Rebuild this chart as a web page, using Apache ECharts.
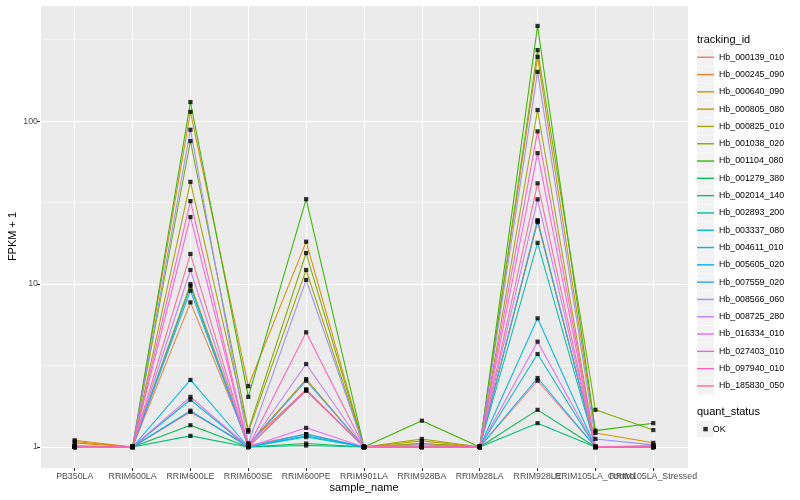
<!DOCTYPE html>
<html><head><meta charset="utf-8">
<script src="https://cdn.jsdelivr.net/npm/echarts@6/dist/echarts.min.js"></script>
<style>html,body{margin:0;padding:0;background:#fff}#c{width:800px;height:500px}</style>
</head><body><div id="c"></div>
<script>
const categories = ['PB350LA','RRIM600LA','RRIM600LE','RRIM600SE','RRIM600PE','RRIM901LA','RRIM928BA','RRIM928LA','RRIM928LE','RRIM105LA_Control','RRIM105LA_Stressed'];
const trackingIds = ['Hb_000139_010','Hb_000245_090','Hb_000640_090','Hb_000805_080','Hb_000825_010','Hb_001038_020','Hb_001104_080','Hb_001279_380','Hb_002014_140','Hb_002893_200','Hb_003337_080','Hb_004611_010','Hb_005605_020','Hb_007559_020','Hb_008566_060','Hb_008725_280','Hb_016334_010','Hb_027403_010','Hb_097940_010','Hb_185830_050'];
const colors = ['#F8766D','#EA8331','#D89000','#C09B00','#A3A500','#7CAE00','#39B600','#00BB4E','#00BF7D','#00C1A3','#00BFC4','#00BAE0','#00B0F6','#35A2FF','#9590FF','#C77CFF','#E76BF3','#FA62DB','#FF62BC','#FF6C91'];
const yTicks = [1, 10, 100];
const yMin = 0.743, yMax = 516;

const hb000139 = [1.00,1,1.64,1.02,1.20,1.00,1.00,1,2.55,1.00,1.00];
const hb000245 = [1.10,1,7.72,1.05,2.25,1.00,1.00,1,24.0,1.00,1.02];
const hb000640 = [1.08,1,114,2.36,18.2,1.00,1.05,1,248,1.22,1.06];
const hb000805 = [1.06,1,10.0,1.03,2.61,1.00,1.09,1,24.7,1.00,1.00];
const hb000825 = [1.00,1,42.4,1.24,12.2,1.00,1.12,1,117,1.00,1.00];
const hb001038 = [1.00,1,75.4,1.27,15.5,1.00,1.05,1,273,1.69,1.27];
const hb001104 = [1.00,1,131,2.03,33.2,1.00,1.45,1,384,1.26,1.40];
const hb001279 = [1.00,1,1.36,1.00,1.05,1.00,1.00,1,1.69,1.00,1.00];
const hb002014 = [1.00,1,1.17,1.00,1.02,1.00,1.00,1,1.40,1.00,1.00];
const hb002893 = [1.00,1,9.70,1.00,2.22,1.00,1.00,1,17.9,1.00,1.00];
const hb003337 = [1.00,1,1.95,1.00,1.15,1.00,1.00,1,3.72,1.00,1.00];
const hb004611 = [1.00,1,2.58,1.00,1.17,1.00,1.00,1,6.16,1.00,1.00];
const hb005605 = [1.00,1,1.67,1.00,1.20,1.00,1.00,1,2.65,1.00,1.00];
const hb007559 = [1.00,1,9.10,1.02,2.55,1.00,1.00,1,24.3,1.00,1.00];
const hb008566 = [1.00,1,88.5,1.05,10.6,1.00,1.03,1,200.6,1.12,1.03];
const hb008725 = [1.00,1,12.2,1.00,3.23,1.00,1.00,1,33.1,1.00,1.00];
const hb016334 = [1.00,1,2.03,1.00,1.31,1.00,1.00,1,4.43,1.00,1.00];
const hb027403 = [1.02,1,25.8,1.00,2.22,1.00,1.00,1,63.6,1.00,1.00];
const hb097940 = [1.00,1,32.3,1.00,5.06,1.00,1.00,1,86.5,1.00,1.00];
const hb185830 = [1.00,1,15.3,1.00,2.25,1.00,1.00,1,41.5,1.00,1.00];

const seriesValues = [hb000139,hb000245,hb000640,hb000805,hb000825,hb001038,hb001104,hb001279,hb002014,hb002893,hb003337,hb004611,hb005605,hb007559,hb008566,hb008725,hb016334,hb027403,hb097940,hb185830];

const FONT = 'Liberation Sans, Arial, Helvetica, sans-serif';
const series = seriesValues.map((vals, k) => ({
  name: trackingIds[k], type: 'line', color: colors[k],
  data: vals.map((v, i) => [i, v]),
  showSymbol: false, symbol: 'none', silent: true, animation: false,
  lineStyle: { width: 1.05, color: colors[k] }, z: 2
}));
const pts = [];
seriesValues.forEach(vals => vals.forEach((v, i) => pts.push([i, v])));
series.push({
  name: 'OK', type: 'scatter', data: pts, symbol: 'rect', symbolSize: 4.2,
  itemStyle: { color: '#000' }, z: 5, animation: false, silent: true
});

const keyTop = 48.6, keyStep = 17.3;
const graphics = [
  { type: 'text', left: 697, top: 34, style: { text: 'tracking_id', font: '11px ' + FONT, fill: '#000' } },
  { type: 'text', left: 697, top: 406, style: { text: 'quant_status', font: '11px ' + FONT, fill: '#000' } },
  { type: 'rect', shape: { x: 697, y: 420.6, width: 17, height: 16.8 }, style: { fill: '#F2F2F2' }, z: 0 }
];
trackingIds.forEach((t, i) => graphics.push({
  type: 'rect', shape: { x: 697, y: keyTop + i * keyStep + 0.25, width: 17, height: 16.8 },
  style: { fill: '#F2F2F2' }, z: 0
}));

const chart = echarts.init(document.getElementById('c'));
chart.setOption({
  backgroundColor: '#fff',
  animation: false,
  textStyle: { fontFamily: FONT },
  grid: { left: 40, right: 112, top: 5, bottom: 32, show: true, backgroundColor: '#EBEBEB', borderWidth: 0,
    containLabel: false, outerBoundsMode: 'none' },
  xAxis: {
    type: 'value', min: -0.6, max: 10.6, minInterval: 1, maxInterval: 1, splitNumber: 11,
    name: 'sample_name', nameLocation: 'middle', nameGap: 14, nameMoveOverlap: false,
    nameTextStyle: { fontSize: 11, color: '#000', fontFamily: FONT },
    axisLine: { show: false, onZero: false },
    axisTick: { show: true, length: 3, lineStyle: { color: '#333', width: 1 } },
    axisLabel: { color: '#4D4D4D', fontSize: 8.8, margin: 4, fontFamily: FONT, showMinLabel: false, showMaxLabel: false,
      formatter: v => (Number.isInteger(v) && v >= 0 && v <= 10) ? categories[v] : '' },
    splitLine: { show: true, lineStyle: { color: '#fff', width: 1.1 } }
  },
  yAxis: [{
    type: 'log', logBase: 10, min: yMin, max: yMax,
    name: 'FPKM + 1', nameLocation: 'middle', nameGap: 22, nameRotate: 90, nameMoveOverlap: false,
    nameTextStyle: { fontSize: 11, color: '#000', fontFamily: FONT },
    axisLine: { show: false, onZero: false },
    axisTick: { show: true, length: 3, lineStyle: { color: '#333', width: 1 } },
    axisLabel: { color: '#4D4D4D', fontSize: 8.8, margin: 2, fontFamily: FONT, showMinLabel: false, showMaxLabel: false,
      formatter: v => { const m = yTicks.find(t => Math.abs(t - v) / t < 1e-6); return m ? String(m) : ''; } },
    splitLine: { show: true, lineStyle: { color: '#fff', width: 1.1 } }
  }, {
    // helper axis on log10(v)+0.5 so its integer ticks fall on the half-decade minor gridlines
    type: 'value', min: Math.log10(yMin) + 0.5, max: Math.log10(yMax) + 0.5, minInterval: 1, maxInterval: 1, splitNumber: 3,
    position: 'left', axisLine: { show: false, onZero: false }, axisTick: { show: false }, axisLabel: { show: false },
    splitLine: { show: true, lineStyle: { color: '#fff', width: 0.55 } }, z: 0
  }],
  legend: [
    { orient: 'vertical', left: 697, top: keyTop, padding: 0, itemWidth: 17, itemHeight: 1.4, itemGap: 0, icon: 'rect',
      data: trackingIds, selectedMode: false,
      textStyle: { fontSize: 8.8, color: '#000', lineHeight: keyStep, fontFamily: FONT } },
    { orient: 'vertical', left: 703.3, top: 420.6, padding: 0, itemWidth: 4.5, itemHeight: 4.5, icon: 'rect',
      data: ['OK'], selectedMode: false,
      textStyle: { fontSize: 8.8, color: '#000', lineHeight: 17, fontFamily: FONT } }
  ],
  graphic: graphics,
  series: series
});
</script></body></html>
